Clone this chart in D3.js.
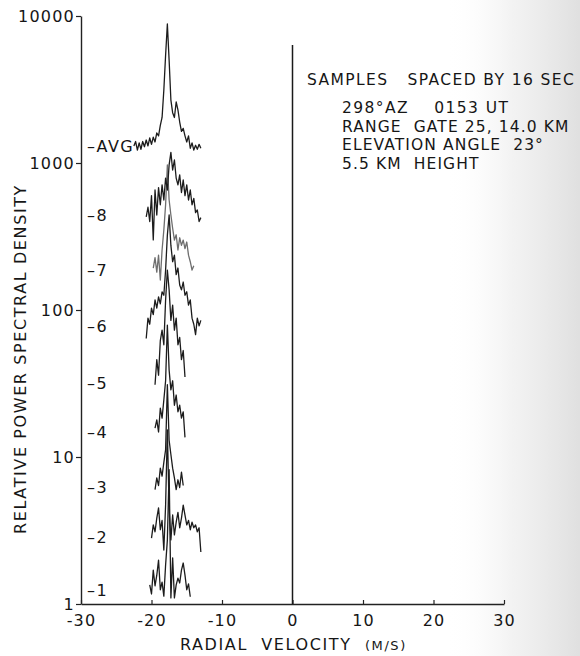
<!DOCTYPE html>
<html>
<head>
<meta charset="utf-8">
<script src="https://cdn.jsdelivr.net/npm/d3@7"></script>
<style>
  html, body { margin: 0; padding: 0; background: #fff; }
  svg { display: block; }
  text { font-family: "DejaVu Sans", sans-serif; fill: #161616; white-space: pre; }
</style>
</head>
<body>
<svg id="chart" width="580" height="656"></svg>
<script>
// Doppler spectra of successive samples (1..8) and their average,
// each series offset on a log power axis. Velocity bins are 0.25 m/s wide.
const binWidth = 0.25;
const seriesNames = ["1", "2", "3", "4", "5", "6", "7", "8", "AVG"];
const seriesLevel = [1.25, 2.86, 6.25, 14.8, 32, 78, 187, 443, 1306];
const seriesStart = [-20.25, -20.0, -19.5, -19.5, -19.5, -20.75, -19.75, -20.75, -22.5];

const psd1 = [1.35, 1.17, 1.70, 1.33, 1.57, 1.99, 1.25, 1.41, 1.13, 1.84, 2.72, 8.2, 1.10, 2.06, 1.10, 1.35, 1.50, 1.39, 1.70, 1.90, 1.57, 1.25, 1.37, 1.12];
const psd2 = [2.81, 3.45, 3.1, 3.84, 4.5, 3.2, 3.7, 2.33, 4.7, 15.3, 4.4, 2.73, 4.03, 2.95, 3.6, 4.2, 3.3, 3.84, 4.7, 4.03, 3.45, 3.7, 3.2, 3.6, 3.3, 3.45, 3.1, 3.3, 2.26];
const psd3 = [6.0, 7.2, 6.4, 8.4, 7.4, 9.2, 11.2, 31, 13.0, 10.4, 8.4, 7.2, 6.0, 7.0, 6.2, 7.9, 6.4];
const psd4 = [15.7, 17.9, 14.8, 21.5, 18.4, 24.4, 33, 79, 39, 28.6, 33, 22.5, 26.4, 20.3, 22.5, 18.4, 20.3, 13.6];
const psd5 = [31, 46, 36, 62, 73, 58, 117, 187, 137, 85, 108, 73, 88, 58, 65, 46, 53, 35];
const psd6 = [64, 88, 80, 103, 93, 117, 103, 123, 110, 133, 126, 187, 323, 443, 275, 213, 236, 174, 193, 148, 137, 155, 126, 133, 108, 117, 88, 80, 68, 88, 78, 85];
const psd7 = [193, 227, 181, 236, 160, 256, 350, 520, 970, 560, 443, 360, 299, 325, 256, 310, 275, 299, 262, 290, 236, 213, 187, 200];
const psd8 = [430, 500, 400, 600, 300, 655, 443, 680, 520, 710, 560, 790, 655, 970, 1180, 896, 1048, 790, 710, 830, 630, 766, 600, 710, 560, 655, 520, 575, 460, 479, 400, 425];
const psdAvg = [1306, 1400, 1225, 1370, 1240, 1400, 1290, 1433, 1306, 1480, 1340, 1500, 1390, 1600, 1530, 1800, 2040, 3140, 5400, 8830, 5000, 2680, 2200, 2040, 2600, 2300, 1900, 1640, 1720, 1530, 1390, 1530, 1260, 1370, 1225, 1320, 1240, 1340, 1260];

const yTicks = [1, 10, 100, 1000, 10000];
const xTicks = [-30, -20, -10, 0, 10, 20, 30];

const notes = [
  "SAMPLES   SPACED BY 16 SEC",
  "298°AZ    0153 UT",
  "RANGE  GATE 25, 14.0 KM",
  "ELEVATION ANGLE  23°",
  "5.5 KM  HEIGHT"
];

const spectra = [psd1, psd2, psd3, psd4, psd5, psd6, psd7, psd8, psdAvg].map((vals, k) => ({
  name: seriesNames[k],
  level: seriesLevel[k],
  points: vals.map((p, i) => ({ v: seriesStart[k] + i * binWidth, p }))
}));

const svg = d3.select("#chart");

// paper tone toward the right edge
const defs = svg.append("defs");
const grad = defs.append("linearGradient").attr("id", "paper").attr("x1", 0).attr("x2", 1).attr("y1", 0).attr("y2", 0);
grad.append("stop").attr("offset", "0").attr("stop-color", "#ffffff").attr("stop-opacity", 0);
grad.append("stop").attr("offset", "0.5").attr("stop-color", "#e8e8e8").attr("stop-opacity", 0.55);
grad.append("stop").attr("offset", "1").attr("stop-color", "#dadada").attr("stop-opacity", 0.85);
svg.append("rect").attr("x", 445).attr("y", 0).attr("width", 135).attr("height", 656).attr("fill", "url(#paper)");

const x = d3.scaleLinear().domain([-30, 30]).range([81, 504]);
const y = d3.scaleLog().domain([1, 10000]).range([604, 16]);

// axes
const yAxis = d3.axisLeft(y).tickValues(yTicks).tickFormat(d3.format("d")).tickSize(5).tickSizeOuter(0).tickPadding(1);
const gy = svg.append("g").attr("transform", `translate(${x(-30)},0)`).call(yAxis);
gy.select(".domain").attr("stroke", "#222").attr("stroke-width", 1.4);
gy.selectAll(".tick line").attr("stroke", "#222").attr("stroke-width", 1.2);
gy.selectAll(".tick text").attr("font-size", 16).style("letter-spacing", "1.2px")
  .attr("font-family", "DejaVu Sans").attr("fill", "#161616");

const xAxis = d3.axisBottom(x).tickValues(xTicks).tickFormat(d => d < 0 ? "-" + Math.abs(d) : d)
  .tickSize(-4).tickSizeOuter(0).tickPadding(11);
const gx = svg.append("g").attr("transform", `translate(0,${y(1)})`).call(xAxis);
gx.select(".domain").attr("stroke", "#222").attr("stroke-width", 1.4);
gx.selectAll(".tick line").attr("stroke", "#222").attr("stroke-width", 1.2);
gx.selectAll(".tick text").attr("font-size", 16).style("letter-spacing", "1.2px")
  .attr("font-family", "DejaVu Sans").attr("fill", "#161616");

// zero-velocity line
svg.append("line")
  .attr("x1", x(0)).attr("x2", x(0))
  .attr("y1", 45).attr("y2", y(1))
  .attr("stroke", "#1a1a1a").attr("stroke-width", 1.5);

// spectra
const line = d3.line().x(d => x(d.v)).y(d => y(d.p));
svg.append("g").selectAll("path").data(spectra).join("path")
  .attr("d", d => line(d.points))
  .attr("fill", "none")
  .attr("stroke", d => d.name === "7" ? "#6e6e6e" : "#1c1c1c")
  .attr("stroke-width", 1.3)
  .attr("stroke-linejoin", "round");

// series labels
svg.append("g").selectAll("text").data(spectra).join("text")
  .attr("x", 87)
  .attr("y", d => y(d.level))
  .attr("dy", "0.36em")
  .attr("font-size", 16)
  .style("letter-spacing", "1.5px")
  .text(d => "–" + d.name);

// notes
const noteG = svg.append("g").attr("font-size", 15.5).style("letter-spacing", "1.4px");
noteG.append("text").attr("xml:space", "preserve").attr("x", 307).attr("y", 85).text(notes[0]);
noteG.selectAll("text.sub").data(notes.slice(1)).join("text")
  .attr("class", "sub")
  .attr("xml:space", "preserve")
  .attr("x", 342)
  .attr("y", (d, i) => 113 + i * 18.5)
  .style("letter-spacing", (d, i) => i === 0 ? "1.4px" : "1.1px")
  .text(d => d);

// axis titles
const xt = svg.append("text").attr("xml:space", "preserve").attr("x", 180).attr("y", 650).attr("font-size", 16)
  .style("letter-spacing", "1.6px");
xt.append("tspan").text("RADIAL  VELOCITY  ");
xt.append("tspan").attr("font-size", 13).text("(M/S)");

svg.append("text")
  .attr("transform", `translate(26,${(185 + 533) / 2}) rotate(-90)`)
  .attr("text-anchor", "middle")
  .attr("font-size", 16)
  .style("letter-spacing", "1.6px")
  .text("RELATIVE POWER SPECTRAL DENSITY");
</script>
</body>
</html>
